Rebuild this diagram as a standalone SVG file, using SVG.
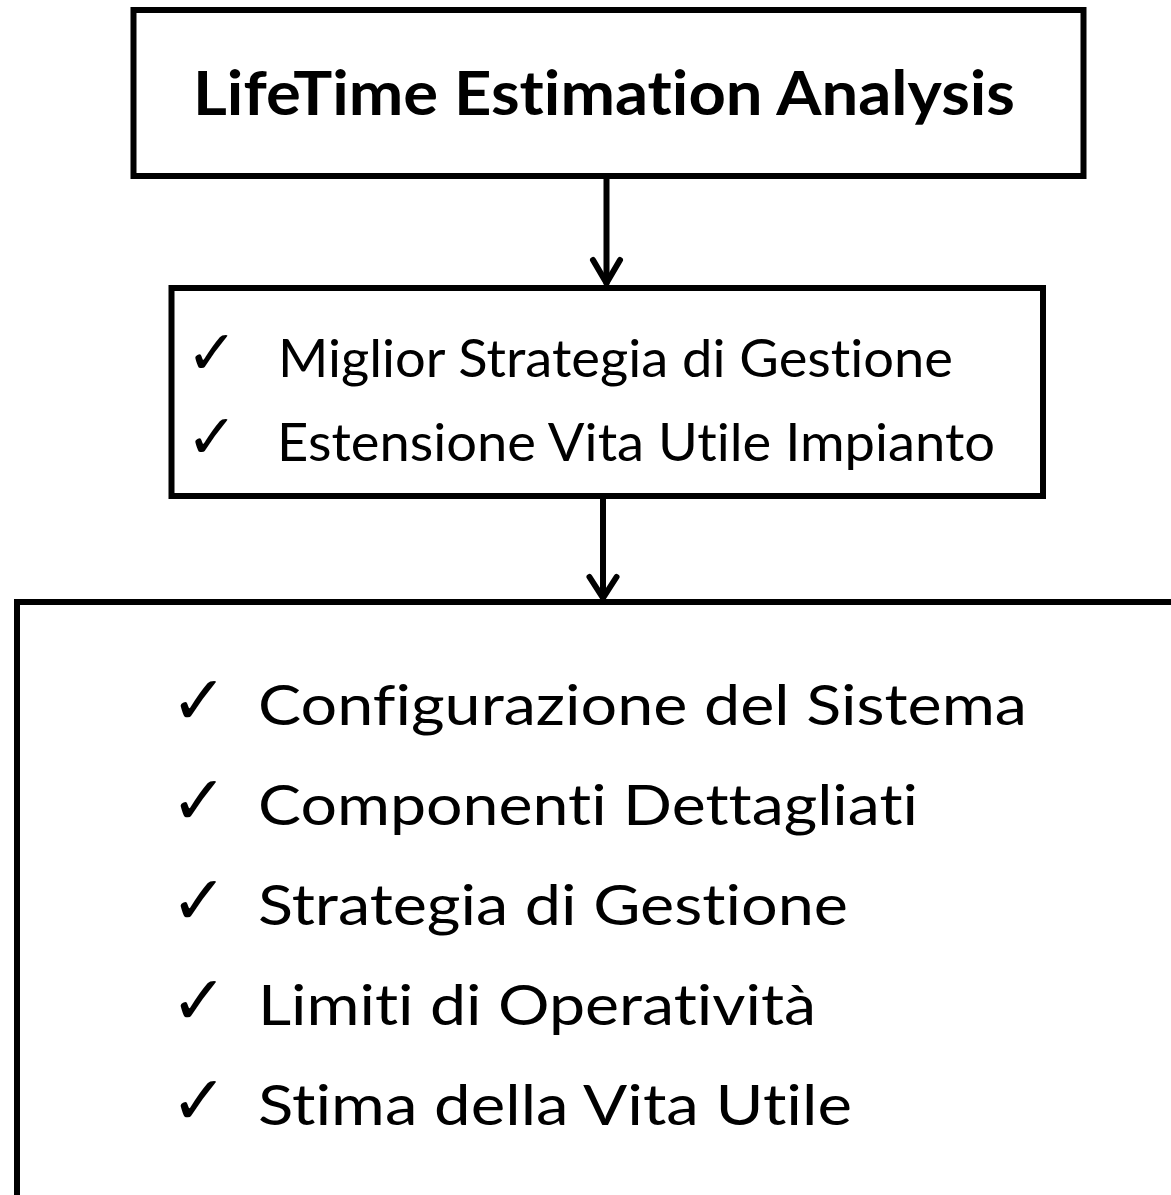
<svg xmlns="http://www.w3.org/2000/svg" width="1171" height="1195" viewBox="0 0 1171 1195">
<style>
.box{fill:#fff;stroke:#000;stroke-width:6}
.conn{fill:none;stroke:#000;stroke-width:6;stroke-linecap:round;stroke-linejoin:round}
.t{font-family:Lato,"Open Sans","Liberation Sans",sans-serif;fill:#000;font-variant-ligatures:none}
.ck{font-family:"DejaVu Sans",sans-serif;fill:#000;text-anchor:middle}
</style>
<rect width="1171" height="1195" fill="#fff"/>
<g id="node-title">
<rect class="box" x="133.5" y="10" width="950" height="166"/>
<text class="t" x="193" y="115" font-size="61" font-weight="bold" textLength="822" lengthAdjust="spacingAndGlyphs">LifeTime Estimation Analysis</text>
</g>
<g id="node-goals">
<rect class="box" x="171.5" y="288" width="871.5" height="208"/>
<text class="ck" x="212" y="374" font-size="62">✓</text>
<text class="t" x="278" y="377" font-size="52" textLength="675" lengthAdjust="spacingAndGlyphs">Miglior Strategia di Gestione</text>
<text class="ck" x="212" y="458" font-size="62">✓</text>
<text class="t" x="277" y="461" font-size="52" textLength="718" lengthAdjust="spacingAndGlyphs">Estensione Vita Utile Impianto</text>
</g>
<g id="node-steps">
<rect class="box" x="17" y="602" width="1200" height="700"/>
<text class="ck" x="199" y="724" font-size="68">✓</text>
<text class="t" x="258" y="725" font-size="56" textLength="769" lengthAdjust="spacingAndGlyphs">Configurazione del Sistema</text>
<text class="ck" x="199" y="824" font-size="68">✓</text>
<text class="t" x="258" y="825" font-size="56" textLength="660" lengthAdjust="spacingAndGlyphs">Componenti Dettagliati</text>
<text class="ck" x="199" y="924" font-size="68">✓</text>
<text class="t" x="258" y="925" font-size="56" textLength="590" lengthAdjust="spacingAndGlyphs">Strategia di Gestione</text>
<text class="ck" x="199" y="1024" font-size="68">✓</text>
<text class="t" x="258" y="1025" font-size="56" textLength="558" lengthAdjust="spacingAndGlyphs">Limiti di Operatività</text>
<text class="ck" x="199" y="1124" font-size="68">✓</text>
<text class="t" x="258" y="1125" font-size="56" textLength="594" lengthAdjust="spacingAndGlyphs">Stima della Vita Utile</text>
</g>
<g id="connectors">
<line class="conn" x1="606.5" y1="179" x2="606.5" y2="283"/>
<polyline class="conn" points="593,260 606.5,283 620,260"/>
<line class="conn" x1="603" y1="499" x2="603" y2="598"/>
<polyline class="conn" points="589.5,577 603,598 616.5,577"/>
</g>
</svg>
